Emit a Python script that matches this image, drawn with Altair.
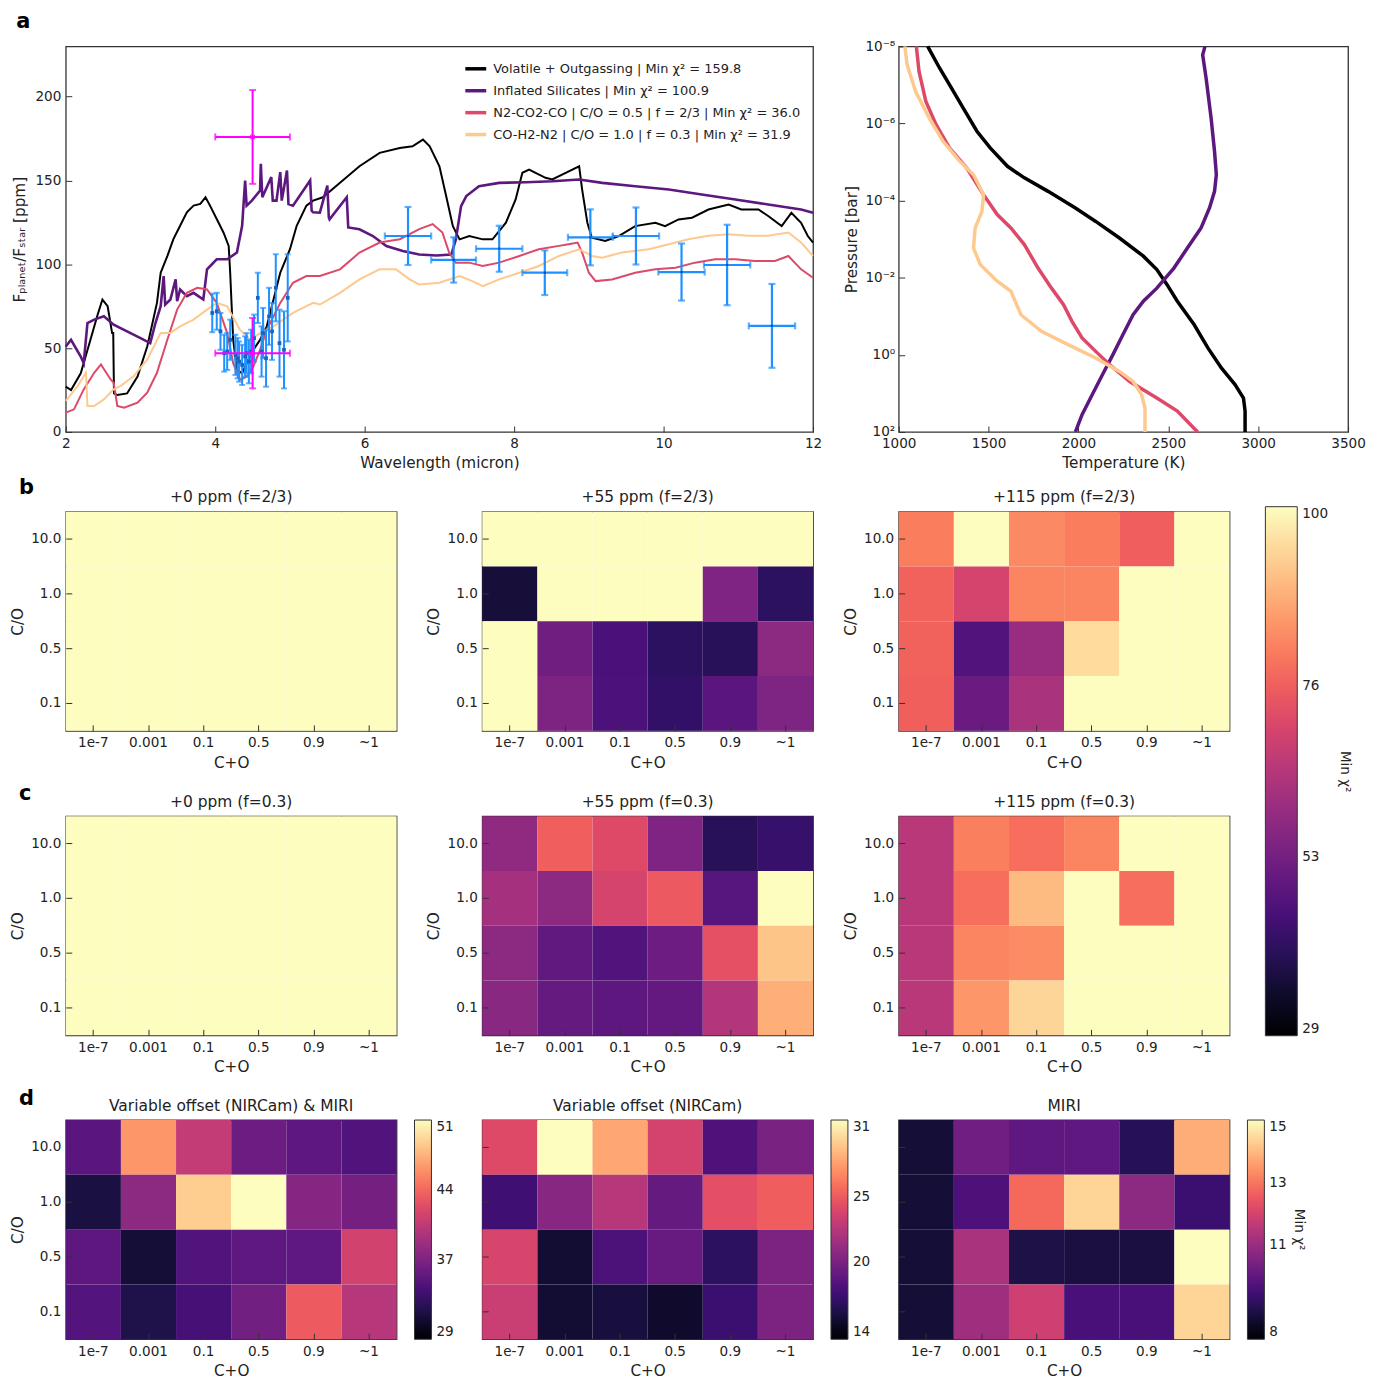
import altair as alt
import pandas as pd

FONT = "DejaVu Sans"
TXT = "#222222"
FRAME = "#333333"

# ---------------- panel a : spectra ----------------
model_names = [
    "Volatile + Outgassing | Min χ² = 159.8",
    "Inflated Silicates | Min χ² = 100.9",
    "N2-CO2-CO | C/O = 0.5 | f = 2/3 | Min χ² = 36.0",
    "CO-H2-N2 | C/O = 1.0 | f = 0.3 | Min χ² = 31.9",
]
model_colors = ["#000000", "#5c187e", "#dd4968", "#fdc98f"]
model_widths = [2, 2.6, 2, 2]

vol_wl = [2.0, 2.07, 2.2, 2.33, 2.42, 2.49, 2.56, 2.62, 2.635, 2.645, 2.69, 2.82, 2.96, 3.09, 3.22, 3.27,
          3.36, 3.44, 3.53, 3.62, 3.71, 3.8, 3.87, 3.93, 4.02, 4.11, 4.18, 4.2, 4.22, 4.24, 4.29, 4.36,
          4.42, 4.51, 4.6, 4.69, 4.78, 4.87, 5.0, 5.09, 5.22, 5.31, 5.44, 5.67, 5.93, 6.2, 6.47, 6.64,
          6.78, 6.87, 7.0, 7.09, 7.18, 7.27, 7.4, 7.58, 7.71, 7.89, 8.02, 8.11, 8.2, 8.42, 8.51, 8.69,
          8.87, 8.91, 8.98, 9.04, 9.22, 9.4, 9.62, 9.89, 10.02, 10.2, 10.38, 10.6, 10.87, 11.04, 11.27,
          11.4, 11.58, 11.71, 11.84, 11.93, 12.0]
vol_fp = [27, 25, 35, 55, 69, 79, 75, 59, 59, 23, 22, 23, 33, 51, 77, 95,
          105, 115, 123, 131, 135, 136, 140, 135, 127, 119, 111, 95, 75, 55, 37, 35,
          41, 49, 55, 63, 79, 95, 109, 123, 135, 138, 140, 148.6, 158.5, 166.5, 169.4, 170.4,
          174.4, 170.4, 158.5, 140.7, 122.8, 114.9, 116.9, 114.9, 114.9, 124.8, 138.7, 154.6, 156.5, 151.6, 150.6, 154.6,
          158.5, 144.6, 124.8, 115.9, 113.9, 116.9, 122.8, 124.8, 122.8, 126.8, 127.8, 132.7, 135.7, 132.7, 132.7,
          128.8, 122.8, 130.7, 124.8, 116.9, 112.9]

sil_wl = [2.0, 2.07, 2.2, 2.24, 2.29, 2.38, 2.51, 2.64, 2.82, 3.0, 3.13, 3.2, 3.27, 3.31, 3.33, 3.4,
          3.47, 3.49, 3.53, 3.62, 3.71, 3.84, 3.89, 4.02, 4.16, 4.29, 4.36, 4.40, 4.42, 4.49, 4.6,
          4.61, 4.63, 4.75, 4.77, 4.82, 4.87, 4.89, 4.96, 4.98, 5.04, 5.27, 5.29, 5.31, 5.4, 5.5, 5.52,
          5.53, 5.76, 5.78, 5.93, 6.11, 6.29, 6.51, 6.73, 6.96, 7.16, 7.22, 7.29, 7.36, 7.53, 7.8, 8.16,
          8.51, 8.87, 9.18, 9.62, 10.07, 10.51, 10.96, 11.4, 11.84, 12.0]
sil_fp = [51, 55, 45, 41, 65, 67, 69, 64, 60, 56, 53, 65, 75, 93, 76, 79,
          91, 78, 85, 81, 83, 79, 97, 103, 103, 107, 123, 150, 135, 138, 144,
          160, 140, 152, 138, 138, 155, 138, 156, 136, 135, 150, 132, 131, 130.8, 147, 128,
          126.8, 140, 122, 120.9, 116.9, 110.9, 107.9, 105.9, 105.3, 105.9, 114.9, 134.7, 140.7, 146.6, 148.6, 149.0,
          149.6, 150.6, 148.6, 146.6, 144.6, 141.7, 138.7, 135.7, 132.7, 130.8]

n2_wl = [2.0, 2.11, 2.24, 2.38, 2.47, 2.6, 2.64, 2.69, 2.78, 2.96, 3.09, 3.22, 3.36, 3.49, 3.62, 3.76,
         3.89, 4.02, 4.16, 4.24, 4.33, 4.42, 4.51, 4.6, 4.69, 4.87, 5.04, 5.22, 5.4, 5.67, 5.93, 6.2,
         6.47, 6.73, 6.91, 7.04, 7.13, 7.22, 7.4, 7.58, 7.8, 8.07, 8.33, 8.6, 8.73, 8.85, 8.91, 9.0,
         9.09, 9.31, 9.62, 9.89, 10.16, 10.42, 10.69, 10.96, 11.22, 11.49, 11.67, 11.84, 12.0]
n2_fp = [11.5, 13.5, 25.4, 35.3, 40.3, 31.3, 29.4, 15.5, 14.5, 17.5, 23.4, 35.3, 55.2, 73, 83, 86,
         85, 77, 59, 41, 31, 33, 39, 49, 61, 77, 89, 93, 93, 97, 107, 113,
         115, 121, 124, 119, 107, 101, 101, 99, 101, 105, 109, 111, 112, 113, 107, 95,
         90, 91, 95, 97, 98, 101, 103, 103, 102, 102, 105, 97, 92]

co_wl = [2.0, 2.16, 2.27, 2.29, 2.38, 2.51, 2.64, 2.73, 2.91, 3.09, 3.27, 3.4, 3.53, 3.71, 3.89, 4.02,
         4.16, 4.33, 4.47, 4.6, 4.78, 5.04, 5.31, 5.4, 5.67, 5.93, 6.2, 6.42, 6.6, 6.73, 7.0, 7.27,
         7.44, 7.58, 7.8, 8.07, 8.33, 8.6, 8.87, 9.04, 9.18, 9.44, 9.8, 10.07, 10.33, 10.6, 10.87,
         11.13, 11.4, 11.67, 11.84, 12.0]
co_fp = [18.5, 27.4, 35.3, 15.5, 15.5, 19.4, 25.4, 27.4, 33.3, 43.3, 59.1, 59.1, 63, 67, 73, 77,
         75, 61, 55, 59, 63, 71, 77, 76, 83, 91, 97, 97, 91, 88, 89, 93,
         90, 87, 91, 95, 99, 105, 109, 105, 104, 107, 109, 112, 115, 117, 118,
         117, 117, 119, 113, 105]

# observations
nircam_wl = [3.96, 4.02, 4.07, 4.12, 4.16, 4.20, 4.27, 4.30, 4.32, 4.36, 4.40, 4.42, 4.45, 4.48, 4.52,
             4.57, 4.62, 4.64, 4.68, 4.72, 4.76, 4.81, 4.86, 4.92, 4.97]
nircam_fp = [71, 72, 60, 47, 48, 55, 46, 44, 42, 40, 45, 47, 42, 48, 56,
             80, 48, 59, 44, 69, 60, 86, 53, 49, 80]
nircam_err = [11.5, 11, 11, 11, 11, 12, 12, 12, 12, 12, 12, 12, 13, 13, 14,
              15, 15, 15, 17, 17, 17, 20, 20, 23, 26]

miri_wl = [6.58, 7.19, 7.80, 8.41, 9.02, 9.63, 10.24, 10.85, 11.45]
miri_fp = [116.9, 102.6, 109.3, 95.0, 116.1, 116.9, 95.4, 99.6, 63.3]
miri_err = [17.3, 13.5, 13.7, 13.3, 16.7, 17.0, 17.0, 24.0, 25.0]
miri_xerr = [0.31, 0.30, 0.31, 0.30, 0.30, 0.31, 0.31, 0.31, 0.31]

extra_wl = [4.5, 4.5]
extra_fp = [176, 47]
extra_err = [28, 21]
extra_xerr = [0.5, 0.5]

# ---------------- panel a : P-T profiles ----------------
pt_T_vol = [1161, 1227, 1283, 1359, 1435, 1510, 1605, 1699, 1831, 1983, 2096, 2228, 2361, 2436, 2493,
            2550, 2644, 2720, 2795, 2871, 2918, 2927, 2927]
pt_logP_vol = [-8, -7.44, -7.0, -6.40, -5.80, -5.36, -4.89, -4.59, -4.24, -3.81, -3.46, -3.03, -2.56, -2.21,
               -1.82, -1.39, -0.78, -0.18, 0.34, 0.77, 1.12, 1.46, 2.0]
pt_T_sil = [2704, 2691, 2710, 2738, 2757, 2767, 2757, 2729, 2682, 2606, 2531, 2436, 2361, 2304, 2247,
            2191, 2134, 2077, 2020, 1983]
pt_logP_sil = [-8, -7.78, -7.18, -6.14, -5.28, -4.67, -4.24, -3.81, -3.29, -2.77, -2.25, -1.73, -1.39,
               -1.04, -0.52, 0.0, 0.51, 1.03, 1.55, 2.0]
pt_T_n2 = [1098, 1113, 1151, 1208, 1283, 1378, 1472, 1548, 1624, 1699, 1775, 1850, 1917, 1964, 2020,
           2096, 2172, 2285, 2436, 2550, 2663]
pt_logP_n2 = [-8, -7.35, -6.57, -5.97, -5.36, -4.85, -4.15, -3.64, -3.29, -2.86, -2.25, -1.73, -1.30,
              -0.87, -0.44, -0.09, 0.25, 0.69, 1.12, 1.46, 2.0]
pt_T_co = [1034, 1047, 1094, 1170, 1246, 1340, 1416, 1472, 1463, 1425, 1416, 1454, 1548, 1624, 1680,
           1794, 1945, 2096, 2228, 2304, 2351, 2370, 2370]
pt_logP_co = [-8, -7.52, -6.83, -6.14, -5.54, -5.02, -4.67, -4.15, -3.72, -3.29, -2.77, -2.34, -1.91,
              -1.65, -1.04, -0.61, -0.26, 0.08, 0.43, 0.69, 1.03, 1.38, 2.0]

# ---------------- heatmaps ----------------
co_sum_labels = ["1e-7", "0.001", "0.1", "0.5", "0.9", "~1"]
c_to_o_labels = ["10.0", "1.0", "0.5", "0.1"]  # top to bottom

b1_vals = [[100] * 6, [100] * 6, [100] * 6, [100] * 6]
b2_vals = [[100, 100, 100, 100, 100, 100],
           [36.5, 100, 100, 100, 55, 40.7],
           [100, 52.4, 45.7, 41, 40, 57.4],
           [100, 54.6, 46, 42, 48.5, 54.8]]
b3_vals = [[80.8, 100, 82.6, 80.8, 75.9, 100],
           [76.6, 70, 82, 82, 100, 100],
           [76.6, 46.8, 59.5, 95, 100, 100],
           [76.2, 51, 62.4, 100, 100, 100]]
c1_vals = [[100] * 6, [100] * 6, [100] * 6, [100] * 6]
c2_vals = [[58, 76, 71.6, 55, 40, 42.5],
           [61.7, 57.4, 70, 75, 48, 100],
           [57.4, 49.6, 46.8, 51.7, 73, 91.5],
           [56.7, 50.3, 49, 50, 64, 88]]
c3_vals = [[65, 81, 78.7, 82, 100, 100],
           [65, 78.7, 90, 100, 78.7, 100],
           [65, 82, 83, 100, 100, 100],
           [65, 84.5, 94, 100, 100, 100]]
d1_vals = [[35, 46.2, 40.7, 36, 35.2, 34.5],
           [31.6, 37.8, 48.8, 51, 37.4, 36.5],
           [35.2, 31.2, 34.5, 35.3, 35.3, 41.5],
           [34.7, 31.9, 34, 36.3, 43.3, 40]]
d2_vals = [[24.2, 31, 27.9, 23.7, 18.2, 20],
           [17.6, 20.6, 22.5, 19.1, 24.5, 25.2],
           [23.9, 15.6, 18.1, 19.2, 16.8, 20.1],
           [23.3, 15.6, 15.9, 15.4, 17.4, 20.1]]
d3_vals = [[8.7, 10.3, 10.0, 10.0, 9.05, 13.8],
           [8.7, 9.7, 12.8, 14.4, 10.8, 9.4],
           [8.7, 11.3, 8.9, 8.8, 8.8, 15],
           [8.7, 11.1, 11.9, 9.6, 9.6, 14.4]]

# ======================================================================
def ax(**kw):
    d = dict(domain=False, grid=False, ticks=True, tickSize=6, offset=-6, tickColor=FRAME, tickWidth=1,
             labelFontSize=13.6, titleFontSize=15.3, labelColor=TXT, titleColor=TXT,
             titleFontWeight="normal", labelPadding=5, labelFlush=False, labelOverlap=False,
             labelFont=FONT, titleFont=FONT)
    d.update(kw)
    return alt.Axis(**d)


# ---- spectrum chart ----
xs = alt.Scale(domain=[2, 12], nice=False, zero=False)
ys = alt.Scale(domain=[0, 230], nice=False, zero=False)
AX_SX = ax(values=[2, 4, 6, 8, 10, 12], title="Wavelength (micron)", titlePadding=5, format="d")
AX_SY = ax(values=[0, 50, 100, 150, 200], title="Fₚₗₐₙₑₜ/Fₛₜₐᵣ [ppm]", titlePadding=7, format="d")

spec_legend = alt.Legend(orient="none", legendX=399, legendY=10, title=None, direction="vertical",
                         symbolType="stroke", symbolSize=441, symbolStrokeWidth=3.5,
                         labelFontSize=13, labelColor=TXT, labelFont=FONT, labelOffset=5,
                         rowPadding=2, padding=0, labelLimit=600)
model_scale = alt.Scale(domain=model_names, range=model_colors)

series = [(vol_wl, vol_fp), (sil_wl, sil_fp), (n2_wl, n2_fp), (co_wl, co_fp)]
line_layers = []
for name, sw, (wl, fp) in zip(model_names, model_widths, series):
    df = pd.DataFrame({"wl": wl, "fp": fp, "model": name})
    line_layers.append(
        alt.Chart(df).mark_line(strokeWidth=sw).encode(
            x=alt.X("wl:Q", scale=xs, axis=AX_SX),
            y=alt.Y("fp:Q", scale=ys, axis=AX_SY),
            color=alt.Color("model:N", scale=model_scale, legend=spec_legend),
        )
    )


def err_layers(wl, fp, err, xerr, color, width, cap, marker):
    df = pd.DataFrame({"wl": wl, "fp": fp, "err": err})
    df["lo"] = df["fp"] - df["err"]
    df["hi"] = df["fp"] + df["err"]
    caps = pd.DataFrame({"wl": list(wl) * 2, "capy": list(df["lo"]) + list(df["hi"])})
    out = [
        alt.Chart(df).mark_rule(color=color, strokeWidth=width).encode(
            x=alt.X("wl:Q", scale=xs, axis=AX_SX),
            y=alt.Y("lo:Q", scale=ys, axis=AX_SY), y2="hi:Q"),
        alt.Chart(caps).mark_tick(orient="horizontal", color=color, size=cap, thickness=width).encode(
            x=alt.X("wl:Q", scale=xs, axis=AX_SX),
            y=alt.Y("capy:Q", scale=ys, axis=AX_SY)),
    ]
    if xerr is not None:
        df["xlo"] = df["wl"] - pd.Series(xerr)
        df["xhi"] = df["wl"] + pd.Series(xerr)
        xcaps = pd.DataFrame({"capx": list(df["xlo"]) + list(df["xhi"]), "fp": list(fp) * 2})
        out += [
            alt.Chart(df).mark_rule(color=color, strokeWidth=width).encode(
                x=alt.X("xlo:Q", scale=xs, axis=AX_SX), x2="xhi:Q",
                y=alt.Y("fp:Q", scale=ys, axis=AX_SY)),
            alt.Chart(xcaps).mark_tick(orient="vertical", color=color, size=cap, thickness=width).encode(
                x=alt.X("capx:Q", scale=xs, axis=AX_SX),
                y=alt.Y("fp:Q", scale=ys, axis=AX_SY)),
        ]
    out.append(marker(alt.Chart(df)).encode(
        x=alt.X("wl:Q", scale=xs, axis=AX_SX), y=alt.Y("fp:Q", scale=ys, axis=AX_SY)))
    return out


BLUE = "#1e90ff"
MAG = "#ff00ff"
obs_layers = []
obs_layers += err_layers(nircam_wl, nircam_fp, nircam_err, None, BLUE, 2, 6,
                         lambda c: c.mark_point(shape="square", filled=True, size=14, color="#1565c0", opacity=1))
obs_layers += err_layers(miri_wl, miri_fp, miri_err, miri_xerr, BLUE, 2.2, 7,
                         lambda c: c.mark_point(shape="circle", filled=True, size=5, color="#0b3d91", opacity=1))
obs_layers += err_layers(extra_wl, extra_fp, extra_err, extra_xerr, MAG, 2, 7,
                         lambda c: c.mark_point(shape="square", filled=False, size=14, color=MAG, strokeWidth=1, opacity=1))

spec_chart = alt.layer(*line_layers, *obs_layers).properties(width=750, height=387)

# ---- P-T chart ----
pt_xs = alt.Scale(domain=[1000, 3500], nice=False, zero=False)
pt_ys = alt.Scale(type="log", domain=[1e-8, 1e2], reverse=True, nice=False)
sup_expr = ("datum.value < 1e-7 ? '10⁻⁸' : datum.value < 1e-5 ? '10⁻⁶' : datum.value < 1e-3 ? '10⁻⁴' : "
            "datum.value < 0.1 ? '10⁻²' : datum.value < 10 ? '10⁰' : '10²'")
AX_PX = ax(values=[1000, 1500, 2000, 2500, 3000, 3500], title="Temperature (K)", titlePadding=5, format="d")
AX_PY = ax(values=[1e-8, 1e-6, 1e-4, 1e-2, 1, 100], labelExpr=sup_expr, title="Pressure [bar]",
           labelPadding=4, titlePadding=5)

pt_series = [(pt_T_vol, pt_logP_vol), (pt_T_sil, pt_logP_sil), (pt_T_n2, pt_logP_n2), (pt_T_co, pt_logP_co)]
pt_layers = []
for name, (T, lp) in zip(model_names, pt_series):
    df = pd.DataFrame({"T": T, "P": [10.0 ** v for v in lp], "idx": list(range(len(T))), "model": name})
    pt_layers.append(
        alt.Chart(df).mark_line(strokeWidth=3.5).encode(
            x=alt.X("T:Q", scale=pt_xs, axis=AX_PX),
            y=alt.Y("P:Q", scale=pt_ys, axis=AX_PY),
            color=alt.Color("model:N", scale=model_scale, legend=None),
            order=alt.Order("idx:Q"),
        )
    )
pt_chart = alt.layer(*pt_layers).properties(width=451, height=387)


# ---- heatmaps ----
def htitle(t):
    return alt.TitleParams(text=t, fontSize=15.5, fontWeight="normal", font=FONT, color=TXT, offset=6,
                           frame="group", anchor="middle")


def heatmap(vals, title, domain, legend, ylabels=True):
    rows = []
    for i, cy in enumerate(c_to_o_labels):
        for j, cx in enumerate(co_sum_labels):
            rows.append({"co_sum": cx, "c_to_o": cy, "chi2": vals[i][j]})
    df = pd.DataFrame(rows)
    if ylabels:
        yax = ax(title="C/O", titlePadding=5.5)
    else:
        yax = ax(title=None, labels=False)
    return alt.Chart(df).mark_rect().encode(
        x=alt.X("co_sum:N", sort=co_sum_labels, scale=alt.Scale(paddingInner=0, paddingOuter=0),
                axis=ax(title="C+O", titlePadding=6, labelAngle=0)),
        y=alt.Y("c_to_o:N", sort=c_to_o_labels, scale=alt.Scale(paddingInner=0, paddingOuter=0), axis=yax),
        color=alt.Color("chi2:Q", scale=alt.Scale(scheme="magma", domain=domain, clamp=True), legend=legend),
    ).properties(width=332, height=220, title=htitle(title))


bc_legend = alt.Legend(orient="none", legendX=1204, legendY=-5, direction="vertical", gradientLength=531,
                       gradientThickness=32, title="Min χ²", titleOrient="right", titleAnchor="middle",
                       values=[29, 53, 76, 100], labelFontSize=13.6, labelColor=TXT, labelFont=FONT,
                       titleFontSize=13.6, titleFontWeight="normal", titleColor=TXT, titleFont=FONT,
                       labelOffset=5, padding=0, gradientStrokeColor=FRAME, gradientStrokeWidth=1,
                       titlePadding=10)


def d_legend(values, title=None):
    kw = dict(orient="right", offset=18, direction="vertical", gradientLength=220, gradientThickness=17,
              values=values, labelFontSize=13.6, labelColor=TXT, labelFont=FONT, labelOffset=5, padding=0,
              gradientStrokeColor=FRAME, gradientStrokeWidth=1)
    if title is None:
        kw["title"] = None
    else:
        kw.update(title=title, titleOrient="right", titleAnchor="middle", titleFontSize=13.6,
                  titleFontWeight="normal", titleColor=TXT, titleFont=FONT, titlePadding=6)
    return alt.Legend(**kw)


BC = [29, 100]
b1 = heatmap(b1_vals, "+0 ppm (f=2/3)", BC, bc_legend)
b2 = heatmap(b2_vals, "+55 ppm (f=2/3)", BC, bc_legend)
b3 = heatmap(b3_vals, "+115 ppm (f=2/3)", BC, bc_legend)
c1 = heatmap(c1_vals, "+0 ppm (f=0.3)", BC, bc_legend)
c2 = heatmap(c2_vals, "+55 ppm (f=0.3)", BC, bc_legend)
c3 = heatmap(c3_vals, "+115 ppm (f=0.3)", BC, bc_legend)
d1 = heatmap(d1_vals, "Variable offset (NIRCam) & MIRI", [29, 51], d_legend([29, 37, 44, 51]))
d2 = heatmap(d2_vals, "Variable offset (NIRCam)", [14, 31], d_legend([14, 20, 25, 31]), ylabels=False)
d3 = heatmap(d3_vals, "MIRI", [8, 15], d_legend([8, 11, 13, 15], "Min χ²"), ylabels=False)


def letter(t, dx, dy, offset=0):
    return alt.TitleParams(text=t, anchor="start", frame="bounds", orient="top", fontSize=21,
                           fontWeight="bold", font=FONT, color="#000000", baseline="alphabetic",
                           offset=offset, dx=dx, dy=dy)


row_a = alt.hconcat(spec_chart, pt_chart, spacing=86, bounds="flush",
                    title=letter("a", 4, 22, offset=12)).resolve_scale(color="independent")
row_b = alt.hconcat(b1, b2, b3, spacing=86, bounds="flush",
                    title=letter("b", 9.5, 25)).resolve_scale(color="shared")
row_c = alt.hconcat(c1, c2, c3, spacing=86, bounds="flush",
                    title=letter("c", 9.5, 26.5)).resolve_scale(color="shared")
bc_block = alt.vconcat(row_b, row_c, spacing=10.6).resolve_scale(color="shared")
row_d = alt.hconcat(d1, d2, d3, spacing=86, bounds="flush",
                    title=letter("d", 9.5, 28.5)).resolve_scale(color="independent")
rest = alt.vconcat(bc_block, row_d, spacing=11.6).resolve_scale(color="independent")
chart = alt.vconcat(row_a, rest, spacing=4).resolve_scale(color="independent")

chart = chart.properties(
    padding={"left": 1, "top": 0, "right": 2, "bottom": 0}
).configure(font=FONT).configure_view(stroke=FRAME, strokeWidth=1.3)

chart.save("out.html", embed_options={"renderer": "svg", "actions": False})
